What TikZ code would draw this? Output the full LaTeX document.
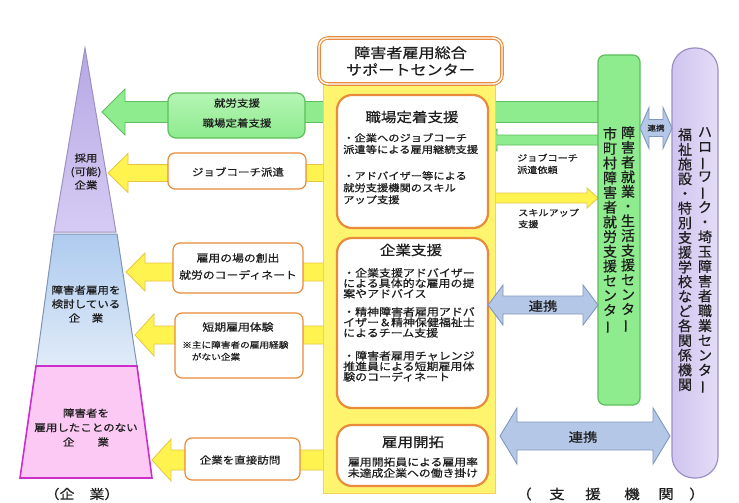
\documentclass[tikz,border=0pt]{standalone}
\usepackage{fontspec}
\usepackage{graphicx}
\setmainfont{Noto Sans CJK JP}[FakeStretch=1.15, FakeBold=0.5]
\newfontfamily\vjp{Noto Sans CJK JP}[FakeBold=0.5]
\newcommand\jfs[2]{\fontsize{#1}{#2}\selectfont}
\newcommand\vbar{\rotatebox[origin=c]{90}{ー}}
\definecolor{ylwA}{HTML}{FFF350}
\definecolor{ylwB}{HTML}{E6C445}
\definecolor{colY}{HTML}{FFF46E}
\definecolor{colYB}{HTML}{F2D25A}
\definecolor{orgB}{HTML}{E98B3A}
\definecolor{grA}{HTML}{8EEB8E}
\definecolor{grB}{HTML}{5DBE5D}
\definecolor{grL}{HTML}{B5F5B5}
\definecolor{bluA}{HTML}{B4C7E7}
\definecolor{bluB}{HTML}{7F98BF}
\definecolor{purA}{HTML}{D9D0F3}
\definecolor{purB}{HTML}{9C90C6}
\definecolor{txt}{HTML}{1E1E1E}
\definecolor{pyrPT}{HTML}{B6A8E4}
\definecolor{pyrPB}{HTML}{D6CBF4}
\definecolor{pyrBT}{HTML}{AECBEF}
\definecolor{pyrBB}{HTML}{E0EBF8}
\definecolor{pyrBD}{HTML}{7F95B5}
\definecolor{pyrKD}{HTML}{CC2ECC}
\definecolor{pyrKF}{HTML}{FBC9F4}
\definecolor{vpL}{HTML}{CFC4EF}
\definecolor{vpR}{HTML}{E4DDF7}
% left-pointing block arrow: tip, end, yc, shaft half, head half, head len, style
\newcommand\BlkArrL[7]{\draw[#7] (#1,#3) -- (#1+#6,#3-#5) -- (#1+#6,#3-#4) -- (#2,#3-#4) -- (#2,#3+#4) -- (#1+#6,#3+#4) -- (#1+#6,#3+#5) -- cycle;}
\newcommand\BlkArrR[7]{\draw[#7] (#1,#3) -- (#1-#6,#3-#5) -- (#1-#6,#3-#4) -- (#2,#3-#4) -- (#2,#3+#4) -- (#1-#6,#3+#4) -- (#1-#6,#3+#5) -- cycle;}
\newcommand\BlkArrD[7]{\draw[#7] (#1,#3) -- (#1+#6,#3-#5) -- (#1+#6,#3-#4) -- (#2-#6,#3-#4) -- (#2-#6,#3-#5) -- (#2,#3) -- (#2-#6,#3+#5) -- (#2-#6,#3+#4) -- (#1+#6,#3+#4) -- (#1+#6,#3+#5) -- cycle;}
\tikzset{
  yarr/.style={fill=ylwA, draw=ylwB, line width=0.8},
  garr/.style={fill=grA, draw=grB, line width=0.8},
  barr/.style={fill=bluA, draw=bluB, line width=0.9},
  lbox/.style={draw=orgB, line width=1.2, fill=white, rounded corners=7},
  cbox/.style={draw=orgB, line width=2.2, fill=white, rounded corners=15},
  lbl/.style={text=txt, inner sep=0},
}
\begin{document}
\begin{tikzpicture}[x=1pt, y=-1pt]
\useasboundingbox (0,0) rectangle (739,503);
\fill[white] (0,0) rectangle (739,503);
% pyramid
\draw[draw=purB, line width=1, top color=pyrPT, bottom color=pyrPB]
  (85,48) -- (116,232) -- (54,232) -- cycle;
\draw[draw=pyrBD, line width=1, top color=pyrBT, bottom color=pyrBB]
  (54,234) -- (117,234) -- (137,366) -- (36,366) -- cycle;
\draw[draw=pyrKD, line width=1.6, fill=pyrKF]
  (36,366) -- (137,366) -- (152,478) -- (20,478) -- cycle;
\node[lbl, align=center, font=\jfs{10}{13.5}] (p1) at (86,171.5) {採用\\(可能)\\企業};
\node[lbl, align=center, font=\jfs{10}{14}] (p2) at (86,304) {障害者雇用を\\検討している\\企　業};
\node[lbl, align=center, font=\jfs{10}{14.5}] (p3) at (86,427.5) {障害者を\\雇用したことのない\\企　　業};
\node[lbl, font=\jfs{13}{14}] (pk) at (82,494) {（企　業）};
% long green arrow
\BlkArrL{102}{605}{112}{10.5}{23}{23}{garr}
% yellow arrows to the left
\BlkArrL{108}{330}{173}{8.5}{19.5}{20}{yarr}
\BlkArrL{126}{330}{272}{9}{19}{19}{yarr}
\BlkArrL{135}{330}{335}{9}{21}{19}{yarr}
\BlkArrL{152}{330}{460}{10}{21}{19}{yarr}
% right small arrows
\BlkArrL{486}{605}{140}{5}{11}{11}{garr}
\BlkArrR{598}{490}{198}{5}{10}{11}{yarr}
% centre column
\draw[fill=colY, draw=colYB, line width=1] (323,80) rectangle (495,493);
\node[draw=orgB, line width=1.1, double=white, double distance=1.4, fill=white, rounded corners=9,
      minimum width=183, minimum height=46, inner sep=0] (title) at (410.5,61) {};
\node[lbl, align=center, font=\jfs{14}{17}] (titlet) at (title.center) {障害者雇用総合\\サポートセンター};
\draw[cbox] (337,95) rectangle (488,228);
\draw[cbox] (337,238) rectangle (488,408);
\draw[cbox] (337,425) rectangle (488,486);
\node[lbl, font=\jfs{13.5}{15}] (h1) at (412,117) {職場定着支援};
\node[lbl, anchor=north west, align=left, font=\jfs{9.8}{11.6}] (b1) at (343,133) {・企業へのジョブコーチ\\派遣等による雇用継続支援};
\node[lbl, anchor=north west, align=left, font=\jfs{9.8}{12}] (b2) at (343,171) {・アドバイザー等による\\就労支援機関のスキル\\アップ支援};
\node[lbl, font=\jfs{13.5}{15}] (h2) at (411,250) {企業支援};
\node[lbl, anchor=north west, align=left, font=\jfs{10.4}{10.4}] (b3) at (343,267.8) {・企業支援アドバイザー\\による具体的な雇用の提\\案やアドバイス};
\node[lbl, anchor=north west, align=left, font=\jfs{10.4}{10.5}] (b4) at (343,306.8) {・精神障害者雇用アドバ\\イザー＆精神保健福祉士\\によるチーム支援};
\node[lbl, anchor=north west, align=left, font=\jfs{10.4}{10.5}] (b5) at (343,350.8) {・障害者雇用チャレンジ\\推進員による短期雇用体\\験のコーディネート};
\node[lbl, font=\jfs{13.5}{15}] (h3) at (413,442) {雇用開拓};
\node[lbl, align=center, font=\jfs{10.3}{11}] (b6) at (413,467.5) {雇用開拓員による雇用率\\未達成企業への働き掛け};
% left label boxes
\draw[draw=grB, line width=1.2, top color=grL, bottom color=grA, rounded corners=8] (168,93) rectangle (305,138);
\node[lbl, align=center, font=\jfs{10}{20}] (g1) at (237,113) {就労支援\\職場定着支援};
\draw[lbox] (168,153) rectangle (306,189);
\node[lbl, font=\jfs{10}{12}] (l1) at (238,172) {ジョブコーチ派遣};
\draw[lbox] (173,243) rectangle (303,293);
\node[lbl, align=center, font=\jfs{10.3}{17}] (l2) at (238,266.5) {雇用の場の創出\\就労のコーディネート};
\draw[lbox] (175,313) rectangle (303,378);
\node[lbl, font=\jfs{10.3}{12}] (l3) at (238,327) {短期雇用体験};
\node[lbl, anchor=north west, align=left, font=\jfs{8.4}{12}] (l3n) at (182,340.8) {※主に障害者の雇用経験\\ 　がない企業};
\draw[lbox] (185,438) rectangle (300,480);
\node[lbl, font=\jfs{10}{12}] (l4) at (240,460) {企業を直接訪問};
% right labels
\node[lbl, anchor=north west, align=left, font=\jfs{8.8}{12}] (r1) at (517,153.5) {ジョブコーチ\\派遣依頼};
\node[lbl, anchor=north west, align=left, font=\jfs{8.8}{11.5}] (r2) at (518,208.5) {スキルアップ\\支援};
% green vertical box
\draw[draw=grB, line width=1.2, fill=grA, rounded corners=7] (598,55) rectangle (640,405);
\node[lbl, anchor=north, align=center, font=\vjp\jfs{14}{14.7}] (v1) at (628,126)
  {障\\害\\者\\就\\業\\・\\生\\活\\支\\援\\セ\\ン\\タ\\\vbar};
\node[lbl, anchor=north, align=center, font=\vjp\jfs{14}{14.7}] (v2) at (610,127)
  {市\\町\\村\\障\\害\\者\\就\\労\\支\\援\\セ\\ン\\タ\\\vbar};
% purple vertical box
\draw[draw=purB, line width=1.2, left color=vpL, right color=vpR, rounded corners=22] (672,48) rectangle (718,478);
\node[lbl, anchor=north, align=center, font=\vjp\jfs{14}{14.8}] (v3) at (705,127)
  {ハ\\ロ\\\vbar\\ワ\\\vbar\\ク\\・\\埼\\玉\\障\\害\\者\\職\\業\\セ\\ン\\タ\\\vbar};
\node[lbl, anchor=north, align=center, font=\vjp\jfs{14}{14.7}] (v4) at (685,128)
  {福\\祉\\施\\設\\・\\特\\別\\支\\援\\学\\校\\な\\ど\\各\\関\\係\\機\\関};
% 連携 arrows
\BlkArrD{640}{672}{128}{8.5}{20.5}{9}{barr}
\node[lbl, font=\jfs{7.5}{8}] (k1) at (656,128) {連携};
\BlkArrD{488}{598}{305}{9}{20}{15}{barr}
\node[lbl, font=\jfs{12.5}{14}] (k2) at (543,306) {連携};
\BlkArrD{500}{670}{436}{14}{28}{17}{barr}
\node[lbl, font=\jfs{12.5}{14}] (k3) at (583,437) {連携};
% bottom right label
\foreach \ch/\xx [count=\i] in {（/524, 支/557, 援/593, 機/632, 関/666, ）/697}
  \node[lbl, font=\jfs{13.5}{14}] (sk\i) at (\xx,494) {\ch};
\end{tikzpicture}
\end{document}
